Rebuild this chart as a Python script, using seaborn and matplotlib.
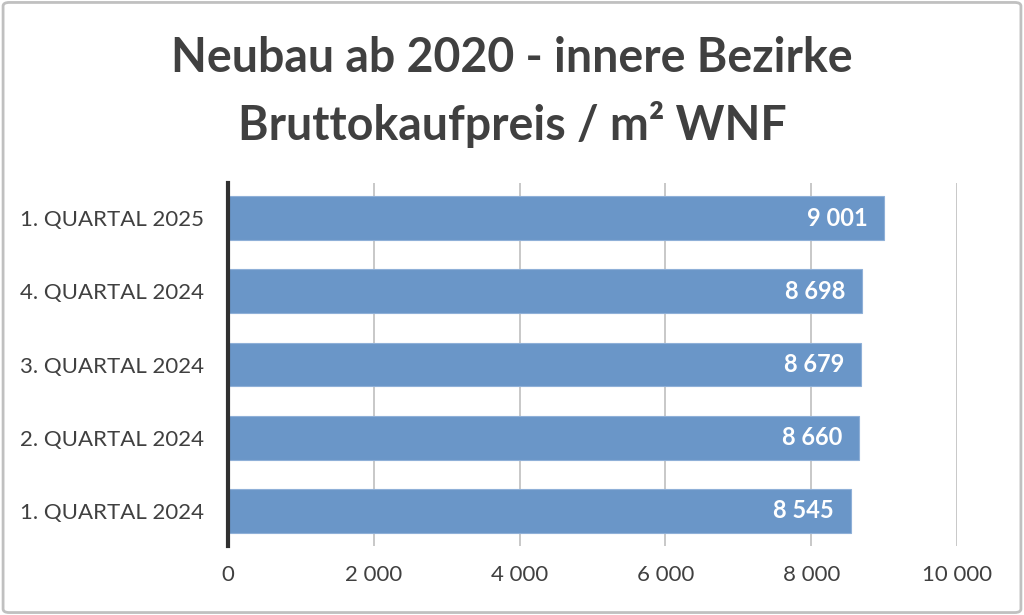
import matplotlib
matplotlib.use("Agg")
import matplotlib.pyplot as plt
from matplotlib.patches import FancyBboxPatch
import pandas as pd
import seaborn as sns

# data
quarters = ["1. QUARTAL 2025", "4. QUARTAL 2024", "3. QUARTAL 2024",
            "2. QUARTAL 2024", "1. QUARTAL 2024"]
prices = [9001, 8698, 8679, 8660, 8545]
x_ticks = [0, 2000, 4000, 6000, 8000, 10000]

df = pd.DataFrame({"Quartal": quarters, "Preis": prices})

def fmt(v):
    return f"{v:,.0f}".replace(",", " ")

sns.set_theme(style="white")
plt.rcParams["font.family"] = ["Lato", "DejaVu Sans"]

fig = plt.figure(figsize=(10.24, 6.15), dpi=100)
ax = fig.add_axes([0.2227, 0.1122, 0.7119, 0.5902])

sns.barplot(data=df, x="Preis", y="Quartal", color="#6a96c8", saturation=1,
            width=0.6, edgecolor="#8fb0d8", linewidth=0.8, ax=ax, zorder=3)

# value labels inside bar ends
for i, v in enumerate(prices):
    ax.text(v - 230, i, fmt(v), ha="right", va="center", color="white",
            fontsize=17, fontweight="bold", zorder=4)

ax.set_xlim(0, 10000)
ax.set_ylim(4.48, -0.48)
ax.set_xticks(x_ticks)
ax.set_xticklabels([fmt(t) for t in x_ticks], fontsize=16, color="#404040")
ax.tick_params(axis="y", labelsize=16, labelcolor="#404040", length=0, pad=17)
ax.tick_params(axis="x", length=0, pad=14)
ax.set_xlabel("")
ax.set_ylabel("")

for t in x_ticks[1:]:
    ax.axvline(t, color="#c4c4c4", linewidth=1.3, zorder=1)

for s in ["top", "right", "bottom"]:
    ax.spines[s].set_visible(False)
ax.spines["left"].set_color("#303030")
ax.spines["left"].set_linewidth(3)
ax.spines["left"].set_zorder(5)

fig.text(0.5, 0.905, "Neubau ab 2020 - innere Bezirke", ha="center", va="center",
         fontsize=33.5, fontweight="bold", color="#404040")
fig.text(0.5, 0.797, "Bruttokaufpreis / m² WNF", ha="center", va="center",
         fontsize=33.5, fontweight="bold", color="#404040")

border = FancyBboxPatch((0.003, 0.004), 0.994, 0.992, boxstyle="round,pad=0,rounding_size=0.006",
                        transform=fig.transFigure, fill=False, edgecolor="#c0c0c0", linewidth=2)
fig.patches.append(border)

fig.savefig("out.png", dpi=100)
